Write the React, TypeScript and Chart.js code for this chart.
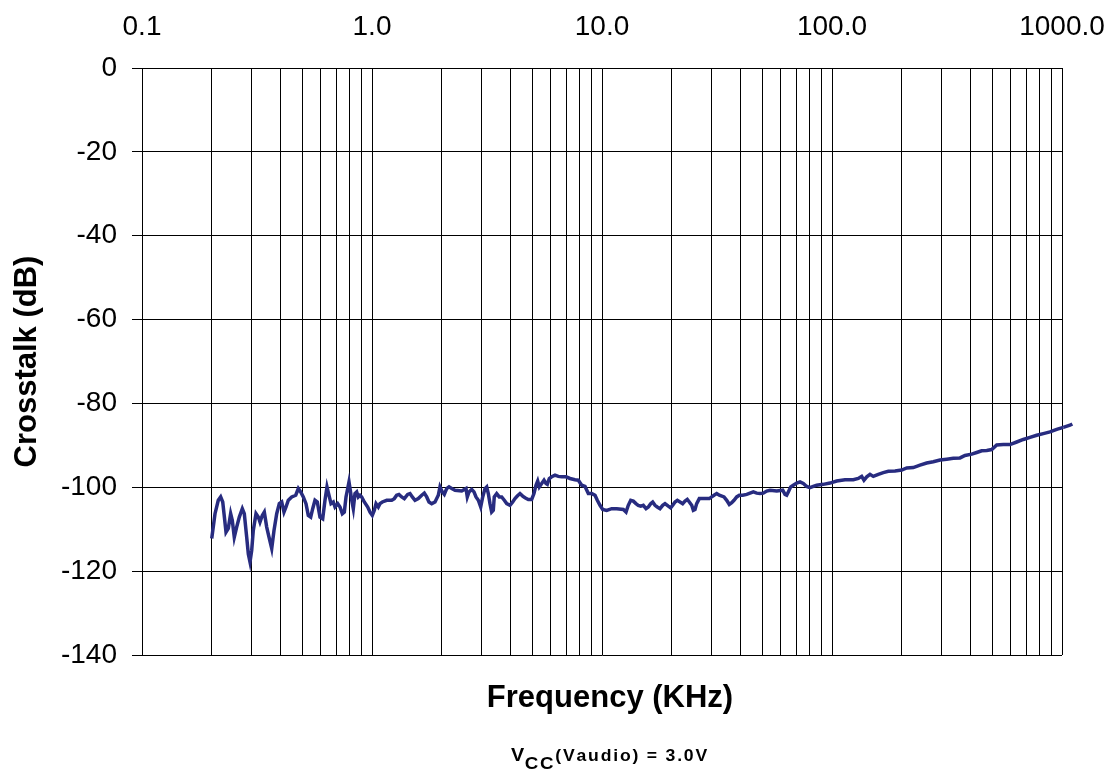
import React, { useEffect, useRef } from 'react';
import { Chart, registerables } from 'chart.js';

Chart.register(...registerables);

const FONT = '"Liberation Sans", Arial, Helvetica, sans-serif';

const xAxisTitle = 'Frequency (KHz)';
const yAxisTitle = 'Crosstalk (dB)';
const subtitleMain = 'V';
const subtitleSub = 'CC';
const subtitleRest = '(Vaudio) = 3.0V';

const xMin = 0.1;
const xMax = 1000;
const yMin = -140;
const yMax = 0;
const yStep = 20;

const labeledFreqs = [0.1, 1, 10, 100, 1000];
const gridFreqs = [
  0.1, 0.2, 0.3, 0.4, 0.5, 0.6, 0.7, 0.8, 0.9,
  1, 2, 3, 4, 5, 6, 7, 8, 9,
  10, 20, 30, 40, 50, 60, 70, 80, 90,
  100, 200, 300, 400, 500, 600, 700, 800, 900,
  1000,
];

const freqKHz = [
  0.201, 0.2077, 0.2146, 0.2198, 0.2244, 0.2273, 0.2319, 0.2373, 0.2429, 0.2469,
  0.2519, 0.258, 0.2649, 0.273, 0.2785, 0.2852, 0.2899, 0.2948, 0.2999, 0.3047,
  0.3131, 0.3204, 0.3258, 0.3334, 0.3402, 0.3485, 0.3566, 0.3664, 0.3749, 0.3852,
  0.3954, 0.405, 0.4144, 0.4228, 0.4327, 0.4477, 0.466, 0.4783, 0.4898, 0.5027,
  0.5164, 0.5285, 0.5414, 0.5523, 0.5652, 0.5783, 0.5941, 0.6104, 0.6246, 0.6372,
  0.6633, 0.6788, 0.6905, 0.7095, 0.726, 0.743, 0.758, 0.7709, 0.784, 0.7943,
  0.8048, 0.8162, 0.8293, 0.8434, 0.858, 0.8718, 0.8867, 0.902, 0.9259, 0.9579,
  0.9802, 1.003, 1.023, 1.041, 1.065, 1.083, 1.109, 1.159, 1.218, 1.25,
  1.28, 1.31, 1.346, 1.382, 1.429, 1.463, 1.497, 1.538, 1.59, 1.645,
  1.688, 1.729, 1.769, 1.818, 1.879, 1.942, 1.975, 2.021, 2.062, 2.112,
  2.162, 2.221, 2.296, 2.455, 2.563, 2.596, 2.641, 2.713, 2.776, 2.833,
  2.899, 2.969, 3.029, 3.1, 3.153, 3.204, 3.258, 3.314, 3.368, 3.401,
  3.484, 3.576, 3.663, 3.76, 3.852, 3.981, 4.09, 4.185, 4.282, 4.4,
  4.52, 4.626, 4.781, 4.946, 5.061, 5.164, 5.253, 5.339, 5.468, 5.596,
  5.709, 5.784, 5.901, 6.044, 6.248, 6.457, 6.681, 6.975, 7.26, 7.632,
  7.889, 8.162, 8.437, 8.72, 9.021, 9.325, 9.541, 9.802, 10.07, 10.48,
  11.02, 11.59, 12.38, 12.72, 13.01, 13.33, 13.68, 14.05, 14.38, 14.74,
  15.12, 15.54, 15.9, 16.28, 16.61, 17.0, 17.39, 17.87, 18.36, 18.79,
  19.42, 19.89, 20.3, 20.77, 21.26, 21.84, 22.43, 22.96, 23.49, 23.97,
  24.55, 24.95, 25.37, 25.8, 26.49, 27.76, 29.28, 29.99, 30.69, 31.53,
  32.36, 33.92, 34.85, 35.77, 36.64, 37.49, 38.52, 39.54, 40.91, 42.58,
  44.01, 45.49, 47.07, 48.64, 50.27, 52.02, 53.76, 57.5, 61.06, 62.48,
  63.53, 64.57, 66.14, 67.88, 70.23, 72.6, 75.04, 77.62, 80.23, 82.93,
  85.8, 91.66, 98.01, 104.8, 113.9, 123.8, 130.1, 134.6, 137.7, 141.6,
  146.3, 151.2, 159.0, 167.1, 175.8, 187.9, 200.9, 211.3, 225.7, 241.3,
  258.0, 275.6, 294.9, 315.3, 336.9, 360.2, 378.7, 405.0, 425.7, 447.6,
  470.7, 494.8, 520.2, 555.6, 594.1, 635.3, 678.7, 725.9, 776.2, 829.3,
  886.8, 948.4, 1013, 1083, 1109,
];

const crosstalkDb = [
  -112.2, -106.3, -103.1, -102.3, -103.5, -106.3, -110.7, -109.8, -106.3, -107.9,
  -111.9, -109.5, -107.1, -105.1, -106.3, -111.9, -115.9, -117.8, -115.0, -110.3,
  -106.3, -107.1, -108.3, -106.7, -105.9, -109.5, -111.9, -114.6, -110.3, -106.3,
  -103.9, -103.5, -105.9, -104.7, -103.1, -102.3, -101.9, -100.3, -101.1, -102.3,
  -103.9, -106.7, -107.1, -105.1, -103.1, -103.5, -107.1, -107.5, -103.1, -99.9,
  -103.9, -103.5, -104.7, -103.9, -104.7, -106.3, -105.9, -102.3, -100.3, -98.7,
  -100.7, -103.1, -105.1, -101.5, -101.1, -102.3, -101.9, -102.3, -103.5, -104.7,
  -105.9, -106.7, -105.5, -103.9, -104.7, -103.9, -103.5, -103.1, -103.1, -102.7,
  -101.9, -101.7, -102.3, -102.7, -101.7, -101.5, -102.3, -103.1, -102.7, -101.9,
  -101.4, -102.3, -103.5, -103.9, -103.5, -101.9, -99.9, -101.1, -101.7, -100.3,
  -99.9, -100.3, -100.7, -100.9, -100.3, -102.3, -101.1, -100.5, -101.1, -102.3,
  -103.1, -104.7, -102.3, -100.3, -99.9, -101.5, -103.9, -105.9, -105.5, -102.3,
  -101.5, -102.3, -102.3, -103.1, -103.9, -104.3, -103.5, -102.7, -102.1, -101.5,
  -102.1, -102.5, -102.9, -102.9, -101.5, -99.5, -98.5, -99.9, -99.1, -98.3,
  -99.1, -99.3, -97.9, -97.5, -97.1, -97.4, -97.5, -97.5, -97.9, -98.2,
  -98.3, -99.5, -99.8, -101.5, -101.5, -101.9, -103.1, -104.3, -105.3, -105.5,
  -105.1, -105.1, -105.3, -105.9, -104.3, -103.1, -103.3, -103.9, -104.3, -104.5,
  -104.3, -105.1, -104.7, -103.9, -103.5, -104.3, -104.7, -105.1, -104.3, -103.9,
  -104.5, -104.9, -104.3, -103.5, -103.1, -103.5, -103.9, -103.3, -102.9, -103.5,
  -104.3, -105.5, -105.3, -103.9, -102.7, -102.7, -102.7, -102.3, -101.9, -101.5,
  -101.9, -102.3, -103.1, -104.1, -103.7, -103.1, -102.3, -101.9, -101.9, -101.7,
  -101.4, -101.1, -101.4, -101.5, -101.4, -100.9, -100.7, -100.9, -100.7, -101.7,
  -101.9, -101.1, -99.9, -99.5, -99.0, -98.7, -99.1, -99.8, -100.1, -99.8,
  -99.5, -99.3, -99.0, -98.5, -98.2, -98.2, -97.9, -97.4, -98.3, -97.5,
  -96.9, -97.4, -96.9, -96.5, -96.2, -96.1, -95.9, -95.4, -95.3, -94.7,
  -94.2, -93.9, -93.5, -93.3, -93.1, -93.0, -92.4, -92.1, -91.7, -91.3,
  -91.2, -91.0, -89.9, -89.8, -89.8, -89.2, -88.6, -88.1, -87.6, -87.2,
  -86.8, -86.2, -85.7, -85.2, -84.9,
];

const LINE_COLOR = '#282C80';
const LINE_WIDTH = 3.5;

// Chart.js stops a sorted line at the first point past the axis max;
// continue the measured trace past the 1000 kHz edge through the x/y scales.
const tailPlugin = {
  id: 'tailBeyondMax',
  afterDatasetsDraw(chart: any) {
    const xs = chart.scales.x;
    const ys = chart.scales.y;
    const idx = freqKHz.findIndex((f) => f > xMax);
    if (idx < 0 || idx >= freqKHz.length - 1) return;
    const ctx = chart.ctx as CanvasRenderingContext2D;
    ctx.save();
    ctx.strokeStyle = LINE_COLOR;
    ctx.lineWidth = LINE_WIDTH;
    ctx.lineJoin = 'miter';
    ctx.beginPath();
    for (let i = idx; i < freqKHz.length; i++) {
      const px = xs.getPixelForValue(freqKHz[i]);
      const py = ys.getPixelForValue(crosstalkDb[i]);
      if (i === idx) ctx.moveTo(px, py);
      else ctx.lineTo(px, py);
    }
    ctx.stroke();
    ctx.restore();
  },
};

const bottomTextPlugin = {
  id: 'bottomText',
  afterDraw(chart: any) {
    const ctx = chart.ctx as CanvasRenderingContext2D;
    const area = chart.chartArea;
    ctx.save();
    ctx.fillStyle = '#000';
    ctx.textBaseline = 'alphabetic';
    ctx.textAlign = 'center';
    ctx.font = `bold 31px ${FONT}`;
    ctx.fillText(xAxisTitle, 610, area.bottom + 52);

    ctx.textAlign = 'left';
    const stretch = 1.1;
    const parts = [
      { text: subtitleMain, size: 18, dy: 0, ls: 0.5 },
      { text: subtitleSub, size: 17, dy: 8, ls: 1.8 },
      { text: subtitleRest, size: 16, dy: 0, ls: 1.8 },
    ];
    const widths = parts.map((p) => {
      ctx.font = `bold ${p.size}px ${FONT}`;
      let w = 0;
      for (const ch of p.text) w += ctx.measureText(ch).width * stretch + p.ls;
      return w;
    });
    const total = widths.reduce((a, b) => a + b, 0);
    let x = 610 - total / 2;
    const baseY = area.bottom + 106;
    parts.forEach((p, i) => {
      ctx.font = `bold ${p.size}px ${FONT}`;
      let xx = x;
      for (const ch of p.text) {
        ctx.save();
        ctx.translate(xx, baseY + p.dy);
        ctx.scale(stretch, 1);
        ctx.fillText(ch, 0, 0);
        ctx.restore();
        xx += ctx.measureText(ch).width * stretch + p.ls;
      }
      x += widths[i];
    });
    ctx.restore();
  },
};

export default function App() {
  const canvasRef = useRef<HTMLCanvasElement | null>(null);

  useEffect(() => {
    const canvas = canvasRef.current;
    if (!canvas) return;
    const points = freqKHz.map((f, i) => ({ x: f, y: crosstalkDb[i] }));
    const chart = new Chart(canvas, {
      type: 'line',
      data: {
        datasets: [
          {
            data: points,
            borderColor: LINE_COLOR,
            backgroundColor: LINE_COLOR,
            borderWidth: LINE_WIDTH,
            pointRadius: 0,
            tension: 0,
            fill: false,
            clip: false as any,
          },
        ],
      },
      options: {
        responsive: false,
        animation: false,
        devicePixelRatio: 1,
        layout: { padding: { left: 0, top: 0, right: 55, bottom: 120 } },
        plugins: {
          legend: { display: false },
          title: { display: false },
          tooltip: { enabled: false },
        },
        scales: {
          x: {
            type: 'logarithmic',
            position: 'top',
            min: xMin,
            max: xMax,
            afterBuildTicks: (scale: any) => {
              scale.ticks = gridFreqs.map((v) => ({ value: v }));
            },
            afterFit: (scale: any) => {
              scale.height = 68;
              scale.paddingLeft = 0;
              scale.paddingRight = 0;
            },
            ticks: {
              autoSkip: false,
              maxRotation: 0,
              minRotation: 0,
              padding: 24,
              color: '#000',
              font: { family: FONT, size: 28 },
              callback: (value: any) => {
                const v = Number(value);
                return labeledFreqs.some((l) => Math.abs(l - v) < 1e-9) ? v.toFixed(1) : '';
              },
            },
            grid: {
              color: '#000',
              lineWidth: 1,
              drawTicks: false,
            },
            border: { display: true, color: '#000', width: 1 },
          },
          y: {
            type: 'linear',
            position: 'left',
            min: yMin,
            max: yMax,
            afterFit: (scale: any) => {
              scale.width = 142;
              scale.paddingTop = 0;
              scale.paddingBottom = 0;
            },
            ticks: {
              stepSize: yStep,
              padding: 15,
              color: '#000',
              font: { family: FONT, size: 28 },
            },
            grid: {
              color: '#000',
              lineWidth: 1,
              drawTicks: true,
              tickLength: 10,
              tickColor: '#000',
            },
            border: { display: true, color: '#000', width: 1 },
            title: {
              display: true,
              text: yAxisTitle,
              color: '#000',
              font: { family: FONT, size: 31, weight: 'bold' },
              padding: { top: 9, bottom: 0 },
            },
          },
        },
      },
      plugins: [tailPlugin, bottomTextPlugin],
    } as any);
    return () => chart.destroy();
  }, []);

  return (
    <div style={{ position: 'absolute', left: 0, top: 0, width: 1117, height: 775, background: '#fff' }}>
      <canvas ref={canvasRef} width={1117} height={775} style={{ width: 1117, height: 775, display: 'block' }} />
    </div>
  );
}
